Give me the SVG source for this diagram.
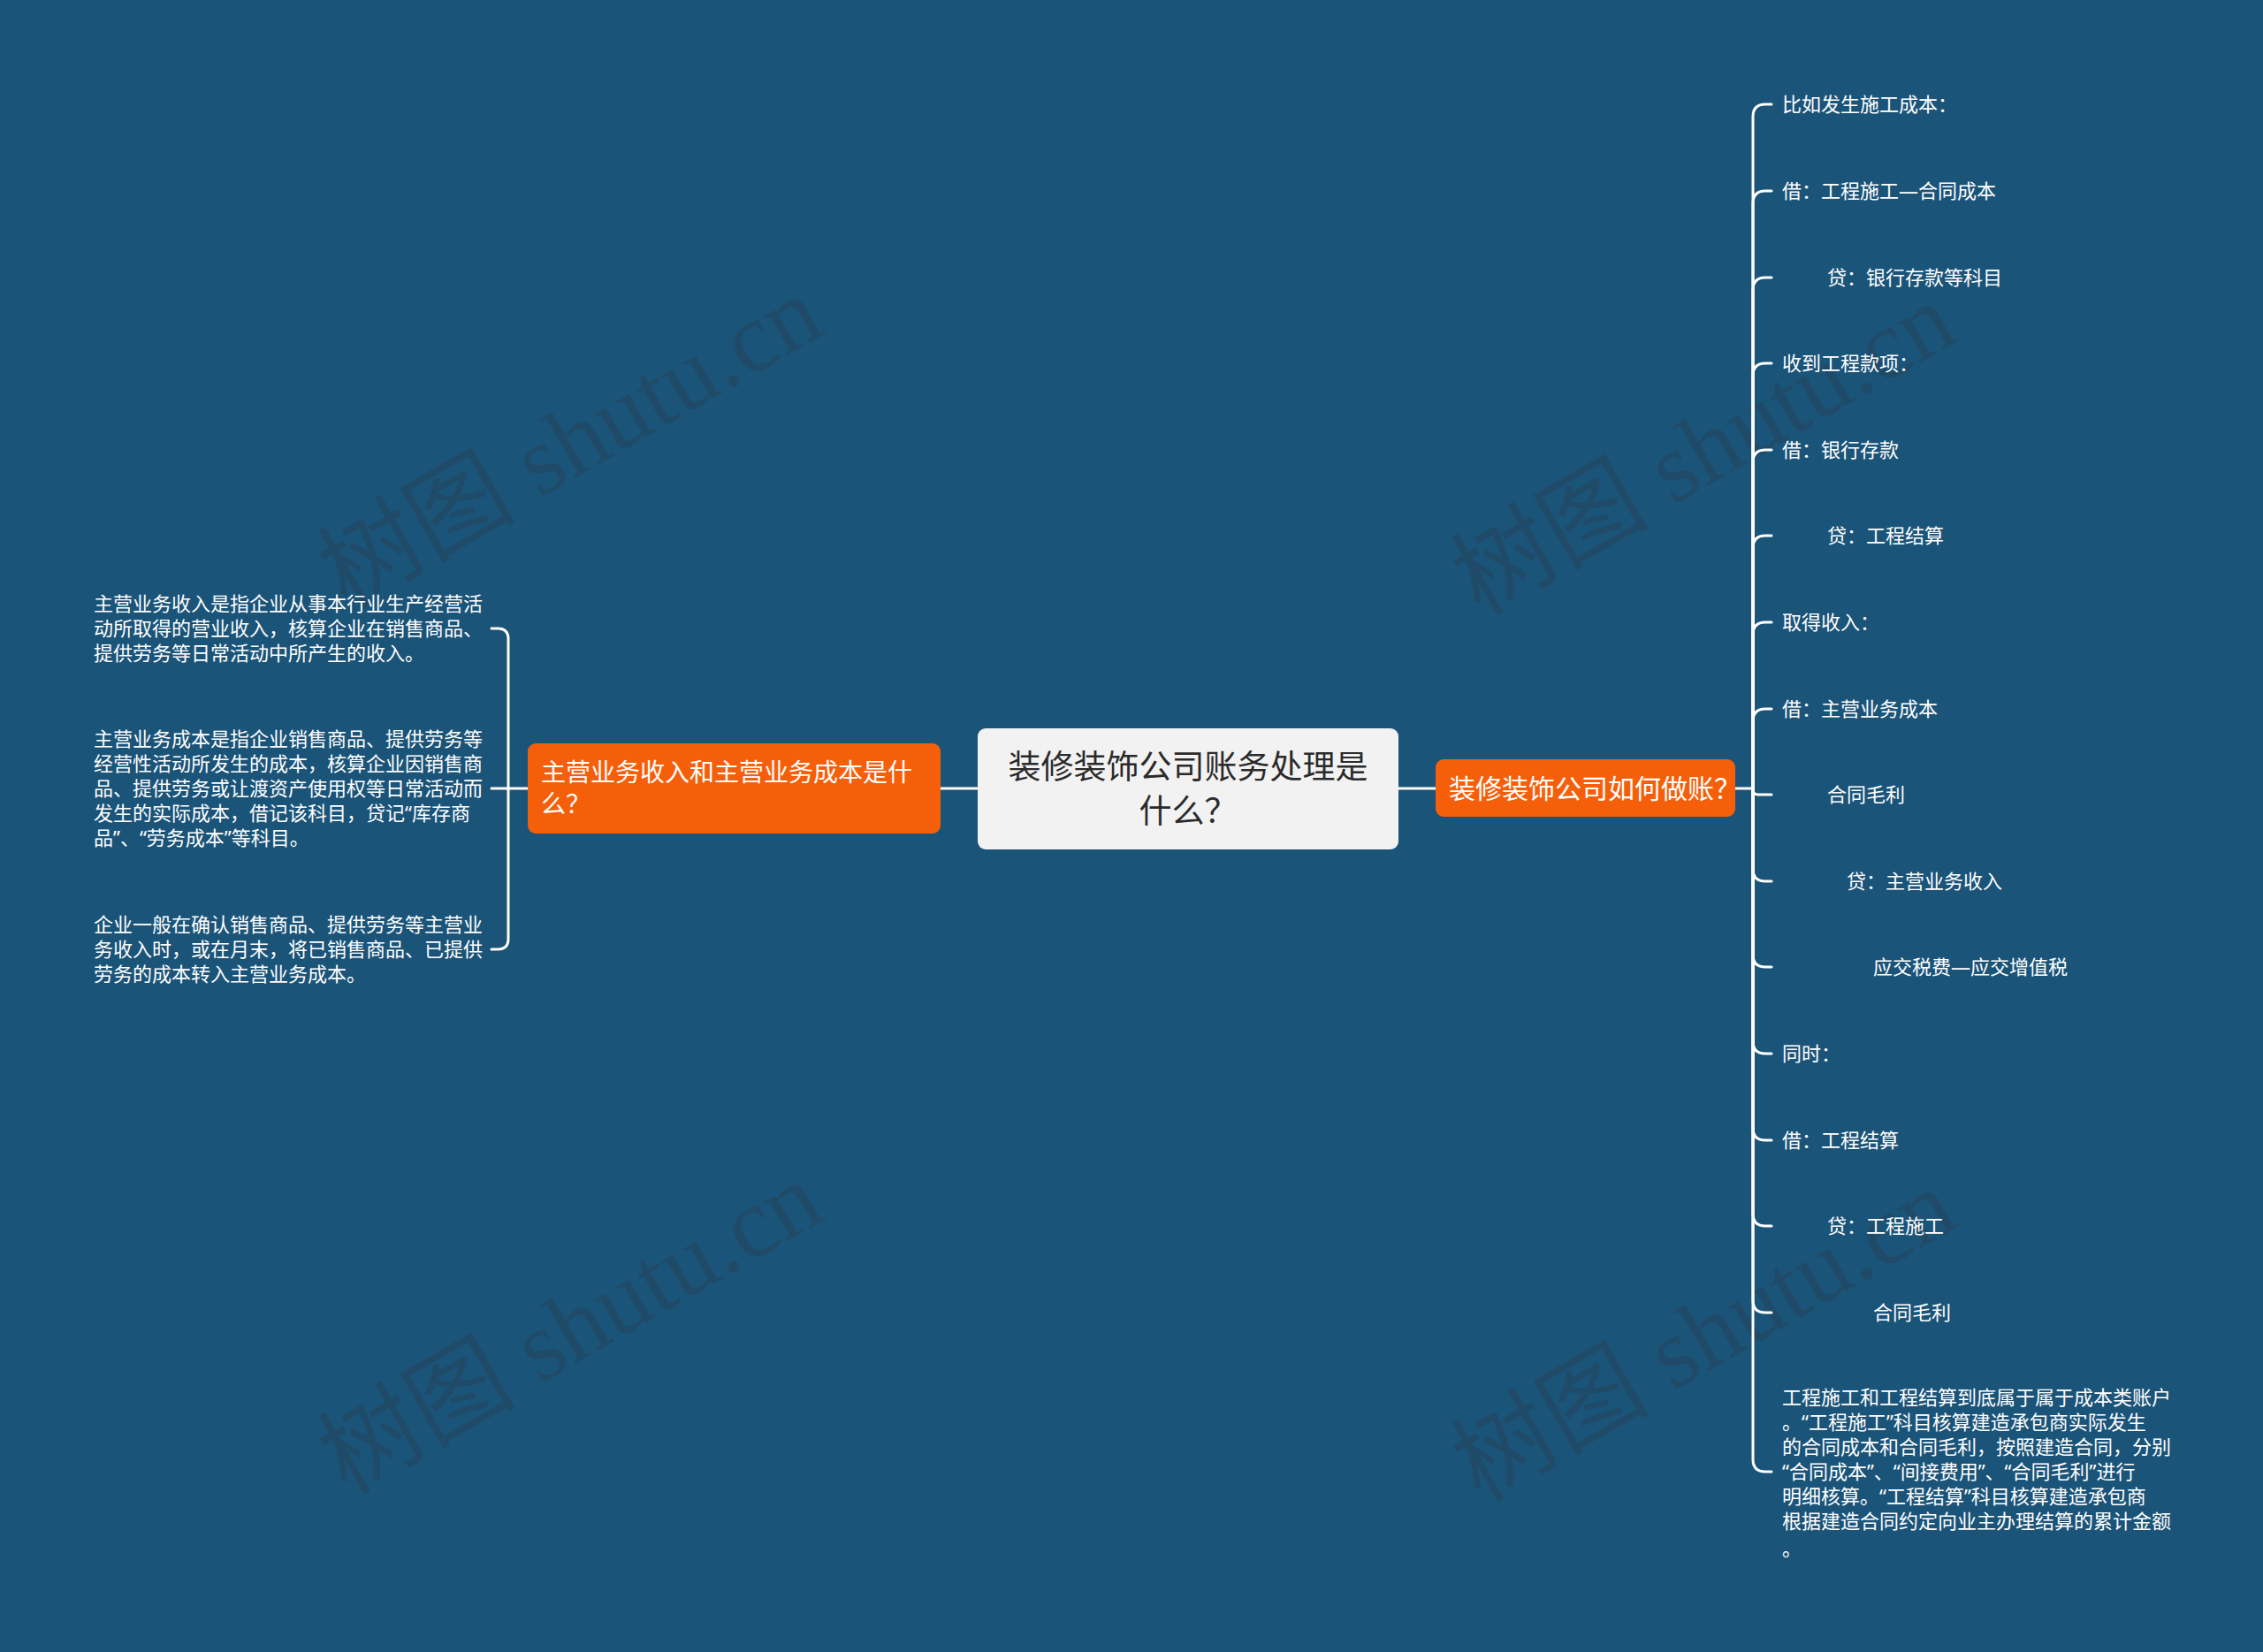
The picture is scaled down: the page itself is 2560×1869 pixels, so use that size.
<svg xmlns="http://www.w3.org/2000/svg" width="2560" height="1869" viewBox="0 0 2560 1869">
<style>
.bg{fill:#1b5479}
.wm{font-family:"Liberation Serif","Noto Sans CJK SC",serif;font-size:112px;fill:#333;fill-opacity:0.24}
.ln{fill:none;stroke:#ffffff;stroke-width:3;stroke-linecap:round}
.t{font-family:"Noto Sans","Noto Sans CJK SC",sans-serif;fill:#ffffff;dominant-baseline:central}
.s{font-size:22px}
.main{fill:#f65f0a}
.root{fill:#f2f2f2}
</style>
<rect class="bg" x="0" y="0" width="2560" height="1869"/>
<g id="watermarks">
<text class="wm" text-anchor="middle" transform="translate(645,500) rotate(-30)" y="38">树图 shutu.cn</text>
<text class="wm" text-anchor="middle" transform="translate(1927,508) rotate(-30)" y="38">树图 shutu.cn</text>
<text class="wm" text-anchor="middle" transform="translate(645,1502) rotate(-30)" y="38">树图 shutu.cn</text>
<text class="wm" text-anchor="middle" transform="translate(1927,1510) rotate(-30)" y="38">树图 shutu.cn</text>
</g>
<g id="connectors">
<path class="ln" d="M1064,892 H1106"/>
<path class="ln" d="M1582,892 H1624"/>
<path class="ln" d="M597,892 H556"/>
<path class="ln" d="M575,892 V723 Q575,711 563,711 H556"/>
<path class="ln" d="M575,892 V1062 Q575,1074 563,1074 H556"/>
<path class="ln" d="M1963,892 H1983"/>
<path class="ln" d="M1983,892 V132 Q1983,118 1997,118 H2004"/>
<path class="ln" d="M1983,892 V230 Q1983,216 1997,216 H2004"/>
<path class="ln" d="M1983,892 V328 Q1983,314 1997,314 H2004"/>
<path class="ln" d="M1983,892 V425 Q1983,411 1997,411 H2004"/>
<path class="ln" d="M1983,892 V523 Q1983,509 1997,509 H2004"/>
<path class="ln" d="M1983,892 V620 Q1983,606 1997,606 H2004"/>
<path class="ln" d="M1983,892 V718 Q1983,704 1997,704 H2004"/>
<path class="ln" d="M1983,892 V816 Q1983,802 1997,802 H2004"/>
<path class="ln" d="M1983,892 V893 Q1983,899 1989,899 H2004"/>
<path class="ln" d="M1983,892 V983 Q1983,997 1997,997 H2004"/>
<path class="ln" d="M1983,892 V1080 Q1983,1094 1997,1094 H2004"/>
<path class="ln" d="M1983,892 V1178 Q1983,1192 1997,1192 H2004"/>
<path class="ln" d="M1983,892 V1276 Q1983,1290 1997,1290 H2004"/>
<path class="ln" d="M1983,892 V1373 Q1983,1387 1997,1387 H2004"/>
<path class="ln" d="M1983,892 V1471 Q1983,1485 1997,1485 H2004"/>
<path class="ln" d="M1983,892 V1651 Q1983,1665 1997,1665 H2004"/>
</g>
<g id="root">
<rect class="root" x="1106" y="824" width="476" height="137" rx="9"/>
<text class="t" style="fill:#2b2b2b;font-size:37px" text-anchor="middle"><tspan x="1344" y="866">装修装饰公司账务处理是</tspan><tspan x="1344" y="916">什么？</tspan></text>
</g>
<g id="n-left">
<rect class="main" x="597" y="841" width="467" height="102" rx="9"/>
<text class="t" style="font-size:28px"><tspan x="612" y="873">主营业务收入和主营业务成本是什</tspan><tspan x="612" y="909">么？</tspan></text>
</g>
<g id="n-right">
<rect class="main" x="1624" y="859" width="339" height="65" rx="9"/>
<text class="t" style="font-size:30px" x="1639" y="891">装修装饰公司如何做账？</text>
</g>
<g id="left-leaves">
<g id="l1"><text class="t s"><tspan x="106" y="682">主营业务收入是指企业从事本行业生产经营活</tspan><tspan x="106" y="710">动所取得的营业收入，核算企业在销售商品、</tspan><tspan x="106" y="738">提供劳务等日常活动中所产生的收入。</tspan></text></g>
<g id="l2"><text class="t s"><tspan x="106" y="835">主营业务成本是指企业销售商品、提供劳务等</tspan><tspan x="106" y="863">经营性活动所发生的成本，核算企业因销售商</tspan><tspan x="106" y="891">品、提供劳务或让渡资产使用权等日常活动而</tspan><tspan x="106" y="919">发生的实际成本，借记该科目，贷记“库存商</tspan><tspan x="106" y="947">品”、“劳务成本”等科目。</tspan></text></g>
<g id="l3"><text class="t s"><tspan x="106" y="1045">企业一般在确认销售商品、提供劳务等主营业</tspan><tspan x="106" y="1073">务收入时，或在月末，将已销售商品、已提供</tspan><tspan x="106" y="1101">劳务的成本转入主营业务成本。</tspan></text></g>
</g>
<g id="right-leaves">
<g id="r1"><text class="t s" x="2016" y="117">比如发生施工成本：</text></g>
<g id="r2"><text class="t s" x="2016" y="215">借：工程施工—合同成本</text></g>
<g id="r3"><text class="t s" x="2067" y="313">贷：银行存款等科目</text></g>
<g id="r4"><text class="t s" x="2016" y="410">收到工程款项：</text></g>
<g id="r5"><text class="t s" x="2016" y="508">借：银行存款</text></g>
<g id="r6"><text class="t s" x="2067" y="605">贷：工程结算</text></g>
<g id="r7"><text class="t s" x="2016" y="703">取得收入：</text></g>
<g id="r8"><text class="t s" x="2016" y="801">借：主营业务成本</text></g>
<g id="r9"><text class="t s" x="2067" y="898">合同毛利</text></g>
<g id="r10"><text class="t s" x="2089" y="996">贷：主营业务收入</text></g>
<g id="r11"><text class="t s" x="2119" y="1093">应交税费—应交增值税</text></g>
<g id="r12"><text class="t s" x="2016" y="1191">同时：</text></g>
<g id="r13"><text class="t s" x="2016" y="1289">借：工程结算</text></g>
<g id="r14"><text class="t s" x="2067" y="1386">贷：工程施工</text></g>
<g id="r15"><text class="t s" x="2119" y="1484">合同毛利</text></g>
<g id="r16"><text class="t s"><tspan x="2016" y="1580">工程施工和工程结算到底属于属于成本类账户</tspan><tspan x="2016" y="1608">。“工程施工”科目核算建造承包商实际发生</tspan><tspan x="2016" y="1636">的合同成本和合同毛利，按照建造合同，分别</tspan><tspan x="2016" y="1664">“合同成本”、“间接费用”、“合同毛利”进行</tspan><tspan x="2016" y="1692">明细核算。“工程结算”科目核算建造承包商</tspan><tspan x="2016" y="1720">根据建造合同约定向业主办理结算的累计金额</tspan><tspan x="2016" y="1751">。</tspan></text></g>
</g>
</svg>
